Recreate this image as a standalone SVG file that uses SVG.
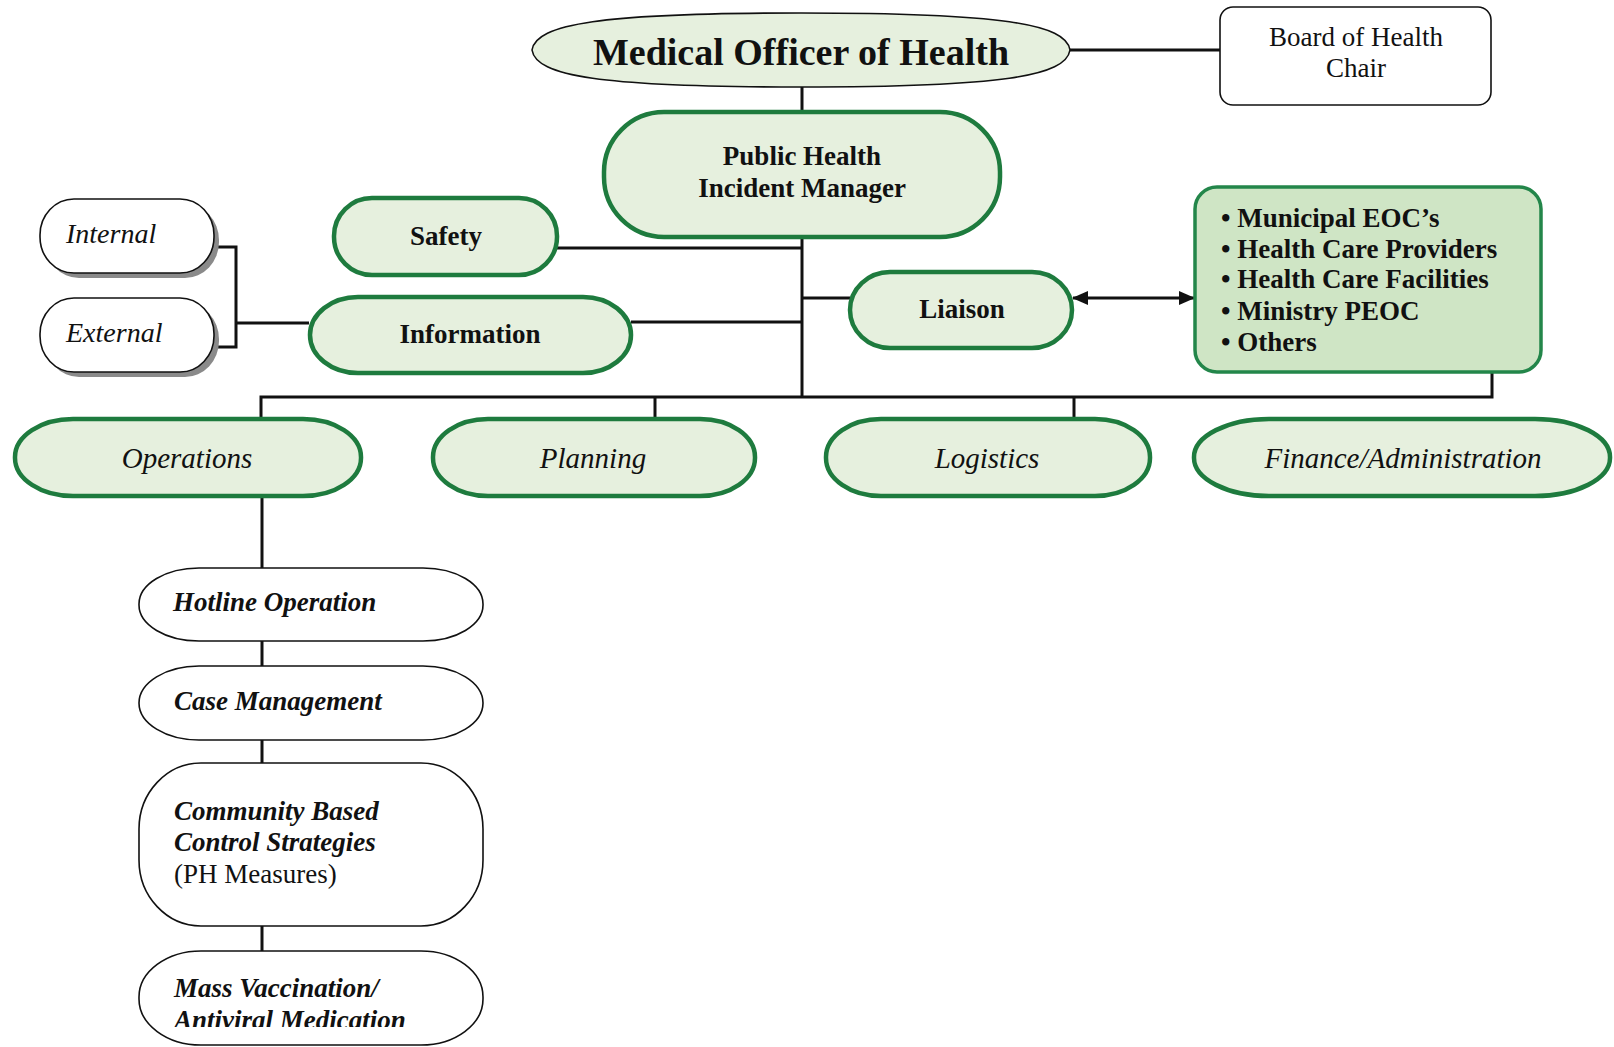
<svg xmlns="http://www.w3.org/2000/svg" width="1614" height="1047" viewBox="0 0 1614 1047">
  <style>
    text { font-family: "Liberation Serif", "Times New Roman", serif; fill: #111; }
    .b { font-weight: bold; font-size: 27px; }
    .it { font-style: italic; font-size: 29px; }
    .bi { font-weight: bold; font-style: italic; font-size: 27px; }
    .rg { font-size: 27px; }
    .mid { text-anchor: middle; }
    .green { fill: #e6f0de; stroke: #1e7b3e; stroke-width: 4.5; }
    .plain { fill: #ffffff; stroke: #111; stroke-width: 1.6; }
    .shadow { fill: #8a8a8a; stroke: none; }
    .wire { fill: none; stroke: #111; stroke-width: 3; }
  </style>
  <defs>
    <marker id="head" viewBox="0 0 16 14" refX="15" refY="7" markerWidth="16" markerHeight="14" markerUnits="userSpaceOnUse" orient="auto-start-reverse">
      <path d="M0,0 L16,7 L0,14 Z" fill="#111"/>
    </marker>
    <clipPath id="massClip">
      <rect x="130" y="940" width="360" height="87"/>
    </clipPath>
  </defs>

  <rect width="1614" height="1047" fill="#ffffff"/>

  <!-- connectors -->
  <g id="connectors">
    <path class="wire" d="M802,87 V112"/>
    <path class="wire" d="M1070,50 H1220"/>
    <path class="wire" d="M802,237 V397"/>
    <path class="wire" d="M557,248 H802"/>
    <path class="wire" d="M631,322 H802"/>
    <path class="wire" d="M802,298 H850"/>
    <path class="wire" d="M214,247 H236 V347 H214"/>
    <path class="wire" d="M236,323 H309"/>
    <path class="wire" d="M261,419 V397 H1492 V372"/>
    <path class="wire" d="M655,397 V419"/>
    <path class="wire" d="M1074,397 V419"/>
    <path class="wire" d="M262,496 V568"/>
    <path class="wire" d="M262,641 V666"/>
    <path class="wire" d="M262,740 V763"/>
    <path class="wire" d="M262,926 V951"/>
    <path class="wire" d="M1073,298 H1194" marker-start="url(#head)" marker-end="url(#head)"/>
  </g>

  <!-- top level -->
  <g id="moh">
    <path d="M532,50 C536,24 600,13 801,13 C1002,13 1066,24 1070,50 C1066,76 1002,87 801,87 C600,87 536,76 532,50 Z" fill="#e6f0de" stroke="#111" stroke-width="1.6"/>
    <text class="mid" x="801" y="65" style="font-weight:bold;font-size:38px">Medical Officer of Health</text>
  </g>

  <g id="board">
    <rect class="plain" x="1220" y="7" width="271" height="98" rx="13"/>
    <text class="rg mid" x="1356" y="46">Board of Health</text>
    <text class="rg mid" x="1356" y="77">Chair</text>
  </g>

  <g id="incident-manager">
    <rect class="green" x="604" y="112" width="396" height="125" rx="60" ry="60"/>
    <text class="b mid" x="802" y="165">Public Health</text>
    <text class="b mid" x="802" y="197">Incident Manager</text>
  </g>

  <!-- command staff -->
  <g id="safety">
    <rect class="green" x="334" y="198" width="223" height="77" rx="38" ry="38"/>
    <text class="b mid" x="446" y="245">Safety</text>
  </g>

  <g id="information">
    <rect class="green" x="310" y="297" width="321" height="76" rx="48" ry="38"/>
    <text class="b mid" x="470" y="343">Information</text>
  </g>

  <g id="internal">
    <rect class="shadow" x="45" y="204" width="174" height="74" rx="34" ry="36"/>
    <rect class="plain" x="40" y="199" width="174" height="74" rx="34" ry="36"/>
    <text class="it" x="66" y="243" style="font-size:28px">Internal</text>
  </g>

  <g id="external">
    <rect class="shadow" x="45" y="303" width="174" height="74" rx="34" ry="36"/>
    <rect class="plain" x="40" y="298" width="174" height="74" rx="34" ry="36"/>
    <text class="it" x="66" y="342" style="font-size:28px">External</text>
  </g>

  <g id="liaison">
    <rect class="green" x="850" y="272" width="222" height="76" rx="40" ry="38"/>
    <text class="b mid" x="962" y="318">Liaison</text>
  </g>

  <g id="partners">
    <rect x="1195" y="187" width="346" height="185" rx="22" fill="#cfe5c5" stroke="#23864a" stroke-width="3.5"/>
    <g class="b">
      <text x="1221" y="227">• Municipal EOC’s</text>
      <text x="1221" y="258">• Health Care Providers</text>
      <text x="1221" y="288">• Health Care Facilities</text>
      <text x="1221" y="320">• Ministry PEOC</text>
      <text x="1221" y="351">• Others</text>
    </g>
  </g>

  <!-- general staff sections -->
  <g id="operations">
    <rect class="green" x="15" y="419" width="346" height="77" rx="58" ry="38"/>
    <text class="it mid" x="187" y="468">Operations</text>
  </g>

  <g id="planning">
    <rect class="green" x="433" y="419" width="322" height="77" rx="55" ry="38"/>
    <text class="it mid" x="593" y="468">Planning</text>
  </g>

  <g id="logistics">
    <rect class="green" x="826" y="419" width="324" height="77" rx="55" ry="38"/>
    <text class="it mid" x="987" y="468">Logistics</text>
  </g>

  <g id="finance">
    <rect class="green" x="1194" y="419" width="416" height="77" rx="75" ry="38"/>
    <text class="it mid" x="1403" y="468">Finance/Administration</text>
  </g>

  <!-- operations branches -->
  <g id="hotline">
    <rect class="plain" x="139" y="568" width="344" height="73" rx="60" ry="36"/>
    <text class="bi" x="173" y="611">Hotline Operation</text>
  </g>

  <g id="case-management">
    <rect class="plain" x="139" y="666" width="344" height="74" rx="60" ry="37"/>
    <text class="bi" x="174" y="710">Case Management</text>
  </g>

  <g id="community">
    <rect class="plain" x="139" y="763" width="344" height="163" rx="62" ry="66"/>
    <text class="bi" x="174" y="820">Community Based</text>
    <text class="bi" x="174" y="851">Control Strategies</text>
    <text class="rg" x="174" y="883">(PH Measures)</text>
  </g>

  <g id="mass-vaccination">
    <rect class="plain" x="139" y="951" width="344" height="94" rx="62" ry="46"/>
    <g clip-path="url(#massClip)">
      <text class="bi" x="174" y="997">Mass Vaccination/</text>
      <text class="bi" x="174" y="1029">Antiviral Medication</text>
    </g>
  </g>
</svg>
